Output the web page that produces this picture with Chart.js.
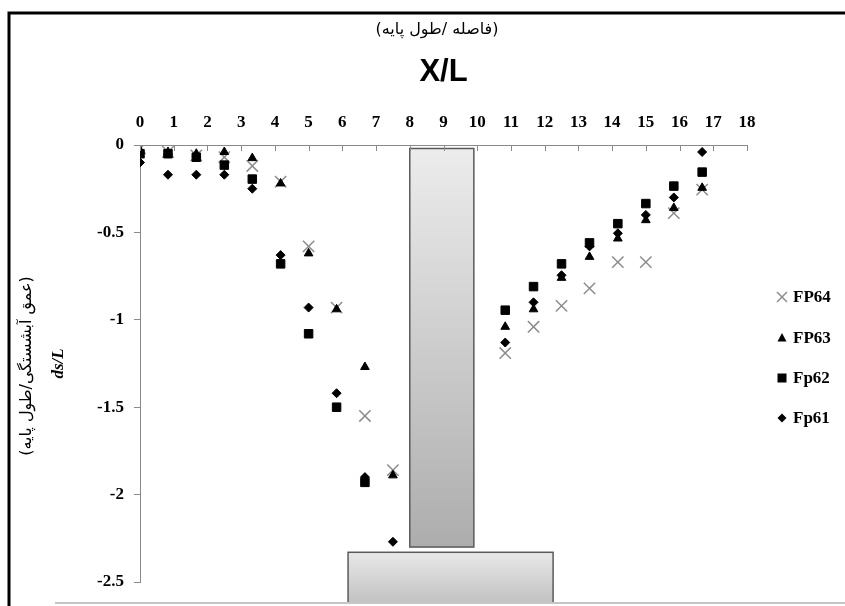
<!DOCTYPE html>
<html>
<head>
<meta charset="utf-8">
<script src="https://cdn.jsdelivr.net/npm/chart.js@4/dist/chart.umd.min.js"></script>
<style>
  html, body { margin: 0; padding: 0; background: #fff; }
  #wrap { width: 845px; height: 606px; position: relative; }
</style>
</head>
<body>
<div id="wrap"><canvas id="scour"></canvas></div>
<script>
// x/L positions of the measuring points
const xPos = [0, 0.83, 1.67, 2.5, 3.33, 4.17, 5, 5.83, 6.67, 7.5,
  10.83, 11.67, 12.5, 13.33, 14.17, 15, 15.83, 16.67];

// ds/L values per test
const fp64 = [-0.02, -0.04, -0.06, -0.07, -0.12, -0.21, -0.58, -0.93, -1.55, -1.86,
  -1.19, -1.04, -0.92, -0.82, -0.67, -0.67, -0.39, -0.255];
const fp63 = [-0.03, -0.04, -0.05, -0.04, -0.075, -0.22, -0.62, -0.94, -1.27, -1.89,
  -1.04, -0.94, -0.76, -0.64, -0.535, -0.43, -0.36, -0.245];
const fp62 = [-0.05, -0.05, -0.07, -0.115, -0.195, -0.68, -1.08, -1.5, -1.93, null,
  -0.945, -0.81, -0.68, -0.56, -0.45, -0.335, -0.235, -0.155];
const fp61 = [-0.1, -0.17, -0.17, -0.17, -0.25, -0.63, -0.93, -1.42, -1.9, -2.27,
  -1.13, -0.9, -0.745, -0.58, -0.505, -0.4, -0.3, -0.04];

const seriesNames = ["FP64", "FP63", "Fp62", "Fp61"];

// pier and footing outline, in axis units
const pierX = [8.0, 9.9];
const pierY = [-0.02, -2.3];
const footX = [6.17, 12.25];
const footY = [-2.33, -2.62];

const serif = '"Liberation Serif", "Times New Roman", serif';
const toPts = (ys) => xPos.map((x, i) => ({ x: x, y: ys[i] })).filter((p) => p.y !== null);

const styles = [
  { pointStyle: "crossRot", radius: 8, color: "#8c8c8c", width: 1.5 },
  { pointStyle: "triangle", radius: 5, color: "#000", width: 1 },
  { pointStyle: "rect", radius: 6, color: "#000", width: 1 },
  { pointStyle: "rectRot", radius: 4.5, color: "#000", width: 1 },
];

const structures = {
  id: "structures",
  beforeDraw(chart) {
    const { ctx, scales: { x, y } } = chart;
    const box = (xs, ys, c1, c2) => {
      const l = x.getPixelForValue(xs[0]), r = x.getPixelForValue(xs[1]);
      const t = y.getPixelForValue(ys[0]), b = y.getPixelForValue(ys[1]);
      const g = ctx.createLinearGradient(0, t, 0, b);
      g.addColorStop(0, c1);
      g.addColorStop(1, c2);
      ctx.save();
      ctx.fillStyle = g;
      ctx.fillRect(l, t, r - l, b - t);
      ctx.strokeStyle = "#5a5a5a";
      ctx.lineWidth = 1.5;
      ctx.strokeRect(l, t, r - l, b - t);
      ctx.restore();
    };
    box(pierX, pierY, "#ececec", "#adadad");
    box(footX, footY, "#e8e8e8", "#c2c2c2");
  },
  afterDraw(chart) {
    const { ctx, chartArea, scales: { x } } = chart;
    ctx.save();
    // inner tick marks on the top axis
    ctx.strokeStyle = "#8a8a8a";
    ctx.lineWidth = 1;
    x.ticks.forEach((t) => {
      const px = Math.round(x.getPixelForValue(t.value)) + 0.5;
      ctx.beginPath();
      ctx.moveTo(px, chartArea.top);
      ctx.lineTo(px, chartArea.top + 6);
      ctx.stroke();
    });
    // plot area bottom edge
    ctx.strokeStyle = "#c6c6c6";
    ctx.lineWidth = 2;
    ctx.beginPath();
    ctx.moveTo(55, 603);
    ctx.lineTo(845, 603);
    ctx.stroke();
    // outer frame
    ctx.strokeStyle = "#000";
    ctx.lineWidth = 3;
    ctx.beginPath();
    ctx.moveTo(9, 610);
    ctx.lineTo(9, 13);
    ctx.lineTo(850, 13);
    ctx.stroke();

    // persian titles
    ctx.fillStyle = "#000";
    ctx.direction = "rtl";
    ctx.textAlign = "center";
    ctx.textBaseline = "middle";
    ctx.font = '16px "DejaVu Sans"';
    ctx.fillText("(فاصله /طول پایه)", 437, 30);
    ctx.save();
    ctx.translate(27, 366);
    ctx.rotate(-Math.PI / 2);
    ctx.fillText("(عمق آبشستگی/طول پایه)", 0, 0);
    ctx.restore();

    // legend
    ctx.direction = "ltr";
    ctx.textAlign = "left";
    ctx.font = "bold 17px " + serif;
    const rows = [297, 338, 378, 418];
    seriesNames.forEach((name, i) => {
      const st = styles[i];
      const cy = rows[i], cx = 782;
      ctx.fillStyle = st.color;
      ctx.strokeStyle = st.color;
      ctx.lineWidth = st.width;
      ctx.beginPath();
      if (i === 0) {
        ctx.moveTo(cx - 5, cy - 5); ctx.lineTo(cx + 5, cy + 5);
        ctx.moveTo(cx + 5, cy - 5); ctx.lineTo(cx - 5, cy + 5);
        ctx.stroke();
      } else if (i === 1) {
        ctx.moveTo(cx, cy - 5); ctx.lineTo(cx + 4.5, cy + 3.5); ctx.lineTo(cx - 4.5, cy + 3.5);
        ctx.closePath(); ctx.fill();
      } else if (i === 2) {
        ctx.rect(cx - 4.5, cy - 4.5, 9, 9); ctx.fill();
      } else {
        ctx.moveTo(cx, cy - 4.5); ctx.lineTo(cx + 4.5, cy); ctx.lineTo(cx, cy + 4.5); ctx.lineTo(cx - 4.5, cy);
        ctx.closePath(); ctx.fill();
      }
      ctx.fillStyle = "#000";
      ctx.fillText(name, 793, cy + 1);
    });
    ctx.restore();
  },
};

const seriesData = [fp64, fp63, fp62, fp61];

new Chart(document.getElementById("scour"), {
  type: "scatter",
  data: {
    datasets: seriesData.map((ys, i) => ({
      label: seriesNames[i],
      data: toPts(ys),
      order: 3 - i,
      pointStyle: styles[i].pointStyle,
      pointRadius: styles[i].radius,
      pointBackgroundColor: styles[i].color,
      pointBorderColor: styles[i].color,
      pointBorderWidth: styles[i].width,
      showLine: false,
    })),
  },
  options: {
    responsive: true,
    maintainAspectRatio: false,
    animation: false,
    layout: { padding: { left: 0, top: 0, right: 98, bottom: 24 } },
    plugins: { legend: { display: false }, tooltip: { enabled: false } },
    scales: {
      x: {
        type: "linear",
        position: "top",
        min: 0,
        max: 18,
        ticks: { stepSize: 1, padding: 12, color: "#000", font: { family: serif, size: 17, weight: "bold" } },
        grid: { drawOnChartArea: false, drawTicks: false },
        border: { color: "#8a8a8a", width: 1 },
        title: {
          display: true,
          text: "X/L",
          color: "#000",
          font: { family: '"Liberation Sans Narrow", "Liberation Sans", sans-serif', size: 31, weight: "bold" },
          padding: { top: 54, bottom: 0 },
        },
        afterFit(scale) { scale.height = 145; },
      },
      y: {
        type: "linear",
        min: -2.5,
        max: 0,
        ticks: {
          stepSize: 0.5,
          padding: 10,
          color: "#000",
          font: { family: serif, size: 17, weight: "bold" },
          callback: (v) => String(Math.round(v * 10) / 10),
        },
        grid: { drawOnChartArea: false, tickLength: 6, color: "#8a8a8a" },
        border: { color: "#8a8a8a", width: 1 },
        title: {
          display: true,
          text: "ds/L",
          color: "#000",
          font: { family: serif, size: 17, weight: "bold", style: "italic" },
          padding: { top: 48, bottom: 0 },
        },
        afterFit(scale) { scale.width = 140; },
      },
    },
  },
  plugins: [structures],
});
</script>
</body>
</html>
